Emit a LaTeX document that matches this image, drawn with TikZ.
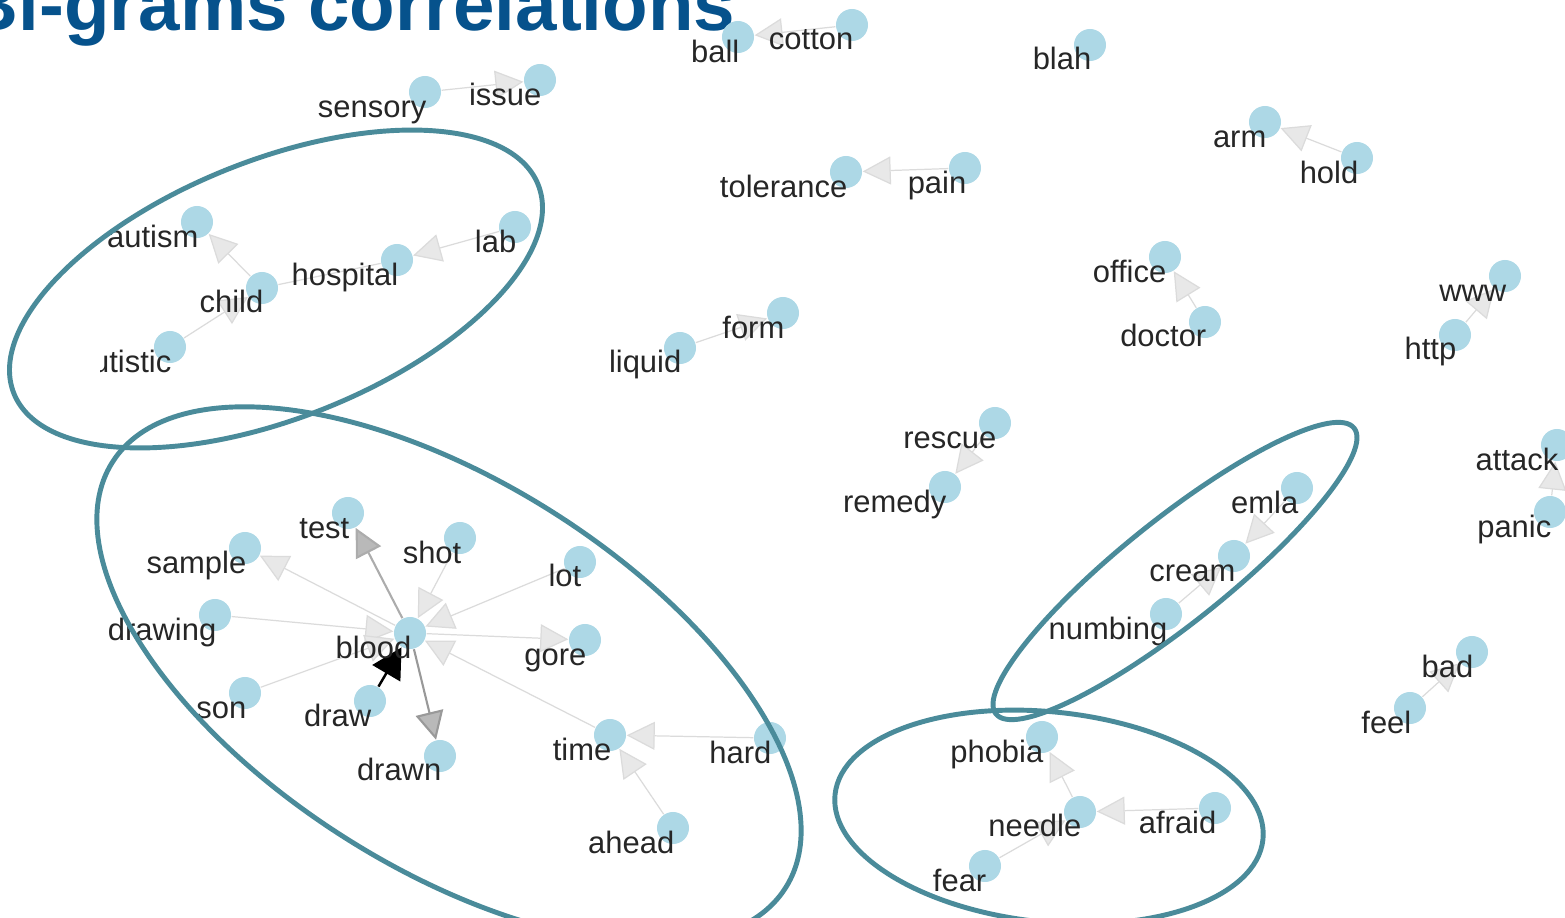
\documentclass[tikz,border=0pt]{standalone}
\usepackage{fontspec}
\setmainfont{Liberation Sans}
\usetikzlibrary{arrows.meta}

\definecolor{titleblue}{RGB}{6,82,140}
\definecolor{dotblue}{RGB}{173,216,230}
\definecolor{ringteal}{RGB}{74,139,154}

\tikzset{
  vtx/.style={circle, fill=dotblue, minimum size=0.32cm, inner sep=0},
  word/.style={anchor=base east, inner sep=0, font=\fontsize{8.8}{10}\selectfont, text=black!85},
  bigram/.style={draw=gray!28, line width=0.35pt, -{Triangle[length=0.28cm, width=0.28cm, fill=gray!18]}},
  bigramdark/.style={draw=gray!65, line width=0.6pt, -{Triangle[length=0.28cm, width=0.28cm, fill=gray!55]}},
  bigramblack/.style={draw=black, line width=0.7pt, -{Triangle[length=0.3cm, width=0.32cm, fill=black]}},
  ring/.style={draw=ringteal, line width=1.4pt}
}

\begin{document}
\begin{tikzpicture}[x=0.01cm, y=-0.01cm]

\useasboundingbox (0,0) rectangle (1565,918);
\clip (0,0) rectangle (1565,918);

\node[anchor=base east, inner sep=0, font=\fontsize{21.2}{24}\bfseries\selectfont, text=titleblue] (title) at (736,31) {Bi-grams correlations};

% -------- words -----------
\node[vtx] (sensory)  at (425, 92) {};
\node[vtx] (issue)    at (540, 80) {};
\node[vtx] (ball)     at (738, 37) {};
\node[vtx] (cotton)   at (852, 25) {};
\node[vtx] (blah)     at (1090, 45) {};
\node[vtx] (arm)      at (1265,122) {};
\node[vtx] (hold)     at (1357,158) {};
\node[vtx] (tolerance) at (846,172) {};
\node[vtx] (pain)     at (965,168) {};
\node[vtx] (autism)   at (197,222) {};
\node[vtx] (lab)      at (515,227) {};
\node[vtx] (hospital) at (397,260) {};
\node[vtx] (child)    at (262,288) {};
\node[vtx] (autistic) at (170,347) {};
\node[vtx] (office)   at (1165,257) {};
\node[vtx] (doctor)   at (1205,322) {};
\node[vtx] (www)      at (1505,276) {};
\node[vtx] (http)     at (1455,335) {};
\node[vtx] (form)     at (783,313) {};
\node[vtx] (liquid)   at (680,348) {};
\node[vtx] (rescue)   at (995,423) {};
\node[vtx] (remedy)   at (945,487) {};
\node[vtx] (attack)   at (1557,445) {};
\node[vtx] (panic)    at (1550,512) {};
\node[vtx] (emla)     at (1297,488) {};
\node[vtx] (cream)    at (1234,556) {};
\node[vtx] (numbing)  at (1166,614) {};
\node[vtx] (bad)      at (1472,652) {};
\node[vtx] (feel)     at (1410,708) {};

\node[vtx] (test)     at (348,513) {};
\node[vtx] (shot)     at (460,538) {};
\node[vtx] (sample)   at (245,548) {};
\node[vtx] (lot)      at (580,562) {};
\node[vtx] (drawing)  at (215,615) {};
\node[vtx] (blood)    at (410,633) {};
\node[vtx] (gore)     at (585,640) {};
\node[vtx] (son)      at (245,693) {};
\node[vtx] (draw)     at (370,701) {};
\node[vtx] (drawn)    at (440,756) {};
\node[vtx] (time)     at (610,735) {};
\node[vtx] (hard)     at (770,738) {};
\node[vtx] (ahead)    at (673,828) {};

\node[vtx] (phobia)   at (1042,737) {};
\node[vtx] (needle)   at (1080,812) {};
\node[vtx] (afraid)   at (1215,808) {};
\node[vtx] (fear)     at (985,866) {};

% -------- pairs -----------
\draw [bigram] (sensory) -- (issue);
\draw [bigram] (cotton) -- (ball);
\draw [bigram] (hold) -- (arm);
\draw [bigram] (pain) -- (tolerance);
\draw [bigram] (child) -- (autism);
\draw [bigram] (lab) -- (hospital);
\draw [draw=gray!28, line width=0.35pt] (hospital) -- (child);
\draw [bigram] (autistic) -- (child);
\draw [bigram] (doctor) -- (office);
\draw [bigram] (http) -- (www);
\draw [bigram] (liquid) -- (form);
\draw [bigram] (rescue) -- (remedy);
\draw [bigram] (panic) -- (attack);
\draw [bigram] (emla) -- (cream);
\draw [bigram] (numbing) -- (cream);
\draw [bigram] (feel) -- (bad);

\draw [bigram] (shot) -- (blood);
\draw [bigram] (lot) -- (blood);
\draw [bigram] (time) -- (blood);
\draw [bigram] (drawing) -- (blood);
\draw [bigram] (son) -- (blood);
\draw [bigram] (blood) -- (gore);
\draw [bigram] (blood) -- (sample);
\draw [bigramdark] (blood) -- (test);
\draw [bigramdark, draw=gray!80] (blood) -- (drawn);
\draw [bigramblack] (draw) -- (blood);
\draw [bigram] (hard) -- (time);
\draw [bigram] (ahead) -- (time);

\draw [bigram] (afraid) -- (needle);
\draw [bigram] (needle) -- (phobia);
\draw [bigram] (fear) -- (needle);

% -------- labels -----------
\foreach \w in {sensory, issue, ball, cotton, blah, arm, hold, tolerance, pain,
                autism, lab, hospital, child, office, doctor, www, http, form, liquid,
                rescue, remedy, attack, panic, emla, cream, numbing, bad, feel,
                test, shot, sample, lot, drawing, blood, gore, son, draw, drawn,
                time, hard, ahead, phobia, needle, afraid, fear}
  \node[word] (\w-t) at ([shift={(2,25)}]\w.center) {\w};

\begin{scope}
\clip (100,300) rectangle (300,400);
\node[word] (autistic-t) at ([shift={(2,25)}]autistic.center) {autistic};
\end{scope}

% -------- groups -----------
\draw [ring, rotate around={21.7:(276,289)}] (276,289) ellipse [x radius=2.82cm, y radius=1.29cm];
\draw [ring, rotate around={-32.3:(449,675)}] (449,675) ellipse [x radius=3.98cm, y radius=1.93cm];
\draw [ring, rotate around={38.6:(1175,571)}] (1175,571) ellipse [x radius=2.29cm, y radius=0.52cm];
\draw [ring, rotate around={-6:(1049,817)}] (1049,817) ellipse [x radius=2.15cm, y radius=1.05cm];

\end{tikzpicture}
\end{document}
